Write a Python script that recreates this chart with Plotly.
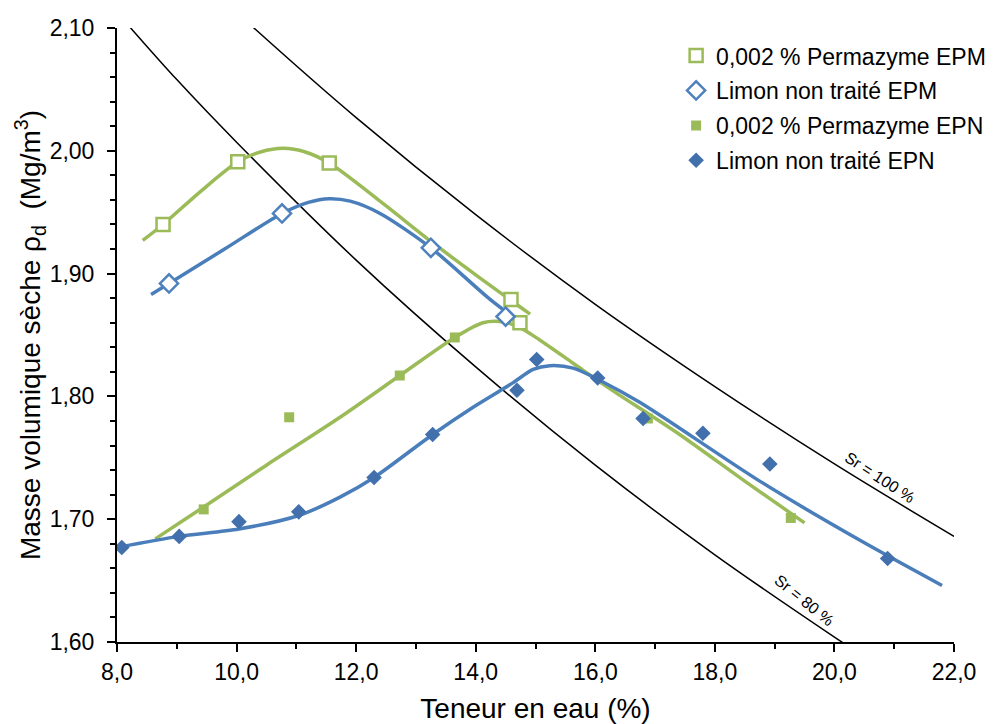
import plotly.graph_objects as go

# ---- measured points ----
epm_perm_x = [8.77, 10.02, 11.55, 14.59, 14.74]
epm_perm_y = [1.940, 1.991, 1.990, 1.879, 1.860]

epm_limon_x = [8.87, 10.76, 13.25, 14.50]
epm_limon_y = [1.892, 1.949, 1.921, 1.865]

epn_perm_x = [9.45, 10.88, 12.73, 13.65, 16.88, 19.27]
epn_perm_y = [1.708, 1.783, 1.817, 1.848, 1.782, 1.701]

epn_limon_x = [8.08, 9.04, 10.04, 11.04, 12.30, 13.28, 14.69, 15.02, 16.04, 16.80, 17.80, 18.92, 20.89]
epn_limon_y = [1.677, 1.686, 1.698, 1.706, 1.734, 1.769, 1.805, 1.830, 1.815, 1.782, 1.770, 1.745, 1.668]

# ---- trend curves ----
fit_epm_perm_x = [8.43, 8.77, 9.4, 10.02, 10.4, 10.78, 11.15, 11.55, 12.4, 13.23, 14.0, 14.91]
fit_epm_perm_y = [1.927, 1.940, 1.967, 1.991, 1.999, 2.002, 1.999, 1.990, 1.959, 1.927, 1.899, 1.867]

fit_epm_limon_x = [8.57, 8.87, 9.8, 10.76, 11.2, 11.55, 11.9, 12.4, 13.25, 14.24, 14.84]
fit_epm_limon_y = [1.883, 1.892, 1.920, 1.949, 1.958, 1.961, 1.959, 1.949, 1.921, 1.879, 1.857]

fit_epn_perm_x = [8.64, 9.45, 10.5, 11.73, 12.73, 13.65, 14.12, 14.40, 14.70, 15.07, 15.63, 16.19, 17.41, 18.5, 19.5]
fit_epn_perm_y = [1.684, 1.710, 1.744, 1.783, 1.817, 1.848, 1.860, 1.861, 1.857, 1.846, 1.827, 1.808, 1.769, 1.731, 1.697]

fit_epn_limon_x = [8.0, 9.04, 10.04, 11.04, 11.73, 12.30, 13.28, 13.95, 14.62, 14.96, 15.24, 15.63, 16.08, 16.75, 18.75, 20.42, 21.80]
fit_epn_limon_y = [1.677, 1.686, 1.692, 1.703, 1.718, 1.734, 1.769, 1.791, 1.811, 1.822, 1.825, 1.823, 1.813, 1.795, 1.731, 1.683, 1.646]

# ---- saturation curves ----
sr100_x = [10.0, 10.29, 12.0, 14.0, 16.0, 18.0, 20.0, 22.0]
sr100_y = [2.113, 2.100, 2.027, 1.948, 1.875, 1.808, 1.745, 1.686]

sr80_x = [8.0, 8.23, 9.0, 10.0, 12.0, 14.0, 16.0, 18.0, 20.0, 20.5]
sr80_y = [2.113, 2.100, 2.058, 2.007, 1.911, 1.824, 1.744, 1.671, 1.604, 1.588]

legend_names = ["0,002 % Permazyme EPM", "Limon non traité EPM",
                "0,002 % Permazyme EPN", "Limon non traité EPN"]

GREEN = "#9BBB59"
BLUE = "#4F81BD"
BLUE_LINE = "#4A7EBB"
BLUE_DARK = "#4170AD"
FONT = "Arial, Liberation Sans, sans-serif"

fig = go.Figure()

# saturation lines
for xs, ys in [(sr100_x, sr100_y), (sr80_x, sr80_y)]:
    fig.add_trace(go.Scatter(x=xs, y=ys, mode="lines", line=dict(color="black", width=1.5, shape="spline"),
                             showlegend=False, hoverinfo="skip"))

# trend curves
for xs, ys, col in [(fit_epm_perm_x, fit_epm_perm_y, GREEN),
                    (fit_epm_limon_x, fit_epm_limon_y, BLUE_LINE),
                    (fit_epn_perm_x, fit_epn_perm_y, GREEN),
                    (fit_epn_limon_x, fit_epn_limon_y, BLUE_LINE)]:
    fig.add_trace(go.Scatter(x=xs, y=ys, mode="lines",
                             line=dict(color=col, width=3.5, shape="spline", smoothing=0.8),
                             showlegend=False, hoverinfo="skip"))

# markers
fig.add_trace(go.Scatter(x=epm_perm_x, y=epm_perm_y, mode="markers", name=legend_names[0], legendgroup="a",
                         marker=dict(symbol="square", size=13, color="white", line=dict(color=GREEN, width=2.5))))
fig.add_trace(go.Scatter(x=epm_limon_x, y=epm_limon_y, mode="markers", name=legend_names[1], legendgroup="b",
                         marker=dict(symbol="diamond", size=14, color="white", line=dict(color=BLUE, width=2.5))))
fig.add_trace(go.Scatter(x=epn_perm_x, y=epn_perm_y, mode="markers", name=legend_names[2], legendgroup="c",
                         marker=dict(symbol="square", size=10, color=GREEN)))
fig.add_trace(go.Scatter(x=epn_limon_x, y=epn_limon_y, mode="markers", name=legend_names[3], legendgroup="d",
                         marker=dict(symbol="diamond", size=12, color=BLUE_DARK)))

fig.add_annotation(x=20.76, y=1.734, text="Sr = 100 %", showarrow=False, textangle=33,
                   font=dict(family=FONT, size=16, color="black"))
fig.add_annotation(x=19.50, y=1.634, text="Sr = 80 %", showarrow=False, textangle=39,
                   font=dict(family=FONT, size=16, color="black"))

fig.update_layout(
    width=998, height=724,
    margin=dict(l=109, r=52, t=20, b=90, autoexpand=False),
    paper_bgcolor="white", plot_bgcolor="white",
    separators=", ",
    font=dict(family=FONT, color="black"),
    legend=dict(x=0.668, y=0.99, xanchor="left", yanchor="top", font=dict(family=FONT, size=23),
                tracegroupgap=2, bgcolor="rgba(0,0,0,0)"),
    xaxis=dict(range=[8, 22], dtick=2, tick0=8, tickformat=".1f", showgrid=False, zeroline=False,
               showline=True, linecolor="black", linewidth=2, ticks="outside", ticklen=8, tickwidth=2,
               tickcolor="black", tickfont=dict(family=FONT, size=23), ticklabelstandoff=0,
               minor=dict(dtick=1, ticks="outside", ticklen=5, tickwidth=1.5, tickcolor="black"),
               title=dict(text="Teneur en eau (%)", font=dict(family=FONT, size=28), standoff=15)),
    yaxis=dict(range=[1.6, 2.1], dtick=0.1, tick0=1.6, tickformat=".2f", showgrid=False, zeroline=False,
               showline=True, linecolor="black", linewidth=2, ticks="outside", ticklen=8, tickwidth=2,
               tickcolor="black", tickfont=dict(family=FONT, size=23), ticklabelstandoff=8,
               minor=dict(dtick=0.02, ticks="outside", ticklen=5, tickwidth=1.5, tickcolor="black"),
               title=dict(text="Masse volumique sèche ρ<sub>d</sub>  (Mg/m<sup>3</sup>)",
                          font=dict(family=FONT, size=28), standoff=0)),
)

fig.write_html("out.html")
